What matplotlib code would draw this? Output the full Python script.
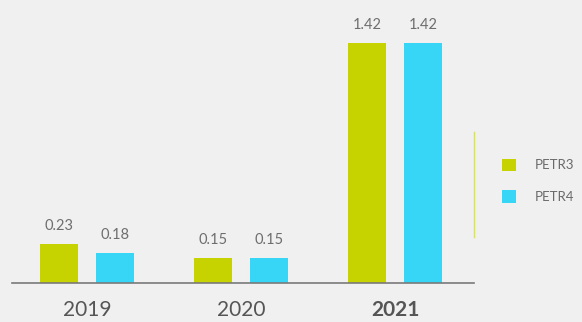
import matplotlib
matplotlib.use("Agg")
import matplotlib.pyplot as plt
import numpy as np

years = ["2019", "2020", "2021"]
petr3 = [0.23, 0.15, 1.42]
petr4 = [0.18, 0.15, 1.42]
series_names = ["PETR3", "PETR4"]

GREEN = "#c6d300"
CYAN = "#38d6f6"
BG = "#f0f0f0"
TEXT = "#555555"

plt.rcParams["font.family"] = ["Lato", "DejaVu Sans"]

W, H = 582, 322
fig = plt.figure(figsize=(W / 100, H / 100), dpi=100, facecolor=BG)
ax = fig.add_axes([12 / W, 39 / H, 462 / W, 283 / H])
ax.set_facecolor(BG)

x = np.arange(len(years))
width = 0.247
off = 0.182
b3 = ax.bar(x - off, petr3, width, color=GREEN, label=series_names[0])
b4 = ax.bar(x + off, petr4, width, color=CYAN, label=series_names[1])

for bars, vals in ((b3, petr3), (b4, petr4)):
    for rect, v in zip(bars, vals):
        ax.annotate(f"{v:.2f}", (rect.get_x() + rect.get_width() / 2, v),
                    xytext=(0, 10), textcoords="offset points",
                    ha="center", va="baseline", fontsize=10.5,
                    color="#6e6e6e")

ax.set_xlim(-0.487, 2.513)
ax.set_ylim(0, 1.675)
ax.set_xticks(x)
ax.set_xticklabels(years, fontsize=15, color=TEXT)
ax.get_xticklabels()[-1].set_fontweight("bold")
ax.tick_params(axis="x", length=0, pad=12)
ax.set_yticks([])

for s in ("top", "left"):
    ax.spines[s].set_visible(False)
ax.spines["bottom"].set_color("#7a7a7a")
ax.spines["bottom"].set_linewidth(1.2)
ax.spines["right"].set_color("#d6e06a")
ax.spines["right"].set_linewidth(1.0)
ax.spines["right"].set_bounds(0.272, 0.893)

fig.legend(handles=[b3, b4], loc="upper left",
           bbox_to_anchor=(495 / W, 1 - 152 / H), frameon=False,
           borderpad=0, handlelength=1.1, handleheight=1.1,
           handletextpad=1.4, labelspacing=1.4,
           prop={"size": 9.5}, labelcolor="#6a6a6a")

fig.savefig("out.png", dpi=100, facecolor=BG)
